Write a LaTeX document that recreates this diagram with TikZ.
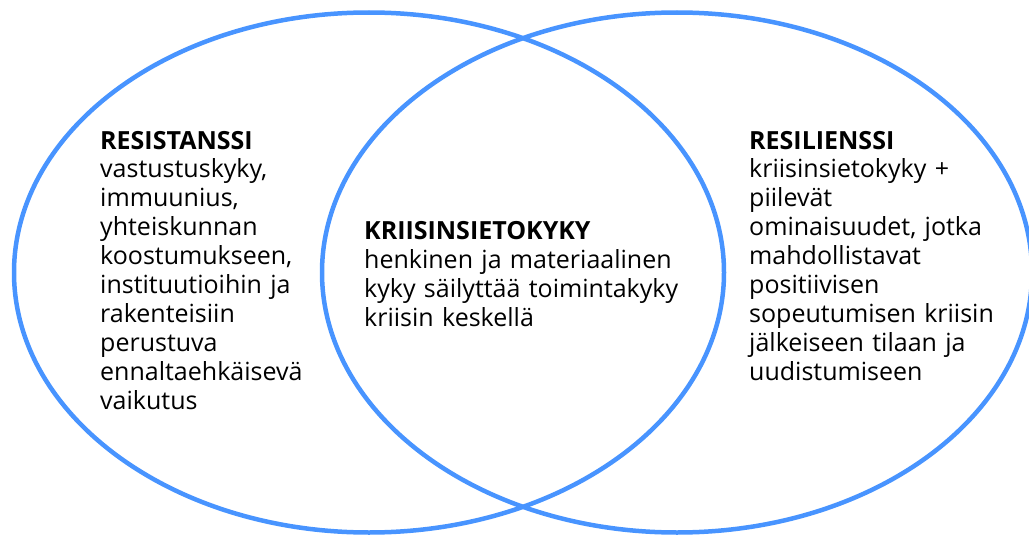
\documentclass[tikz,border=0pt]{standalone}
\usepackage{fontspec}
\setmainfont{Open Sans}
\definecolor{vennblue}{RGB}{72,148,255}
\begin{document}
\begin{tikzpicture}[x=1pt,y=-1pt,
  ring/.style={draw=vennblue,line width=4.5pt},
  txt/.style={anchor=base west,inner sep=0pt,align=left,text width=#1,
    font={\fontsize{25}{28.9}\selectfont},text=black}]
\useasboundingbox (0,0) rectangle (1029,535);
\draw[ring] (369,272.5) ellipse [x radius=355,y radius=260];
\draw[ring] (677,272.5) ellipse [x radius=355,y radius=260];
\node[txt=250pt] (left) at (100,149) {\textbf{RESISTANSSI}\\vastustuskyky,\\immuunius,\\yhteiskunnan\\koostumukseen,\\instituutioihin ja\\rakenteisiin\\perustuva\\ennaltaehkäisevä\\vaikutus};
\node[txt=340pt] (mid) at (364,239.3) {\textbf{KRIISINSIETOKYKY}\\henkinen ja materiaalinen\\kyky säilyttää toimintakyky\\kriisin keskellä};
\node[txt=275pt] (right) at (749,149) {\textbf{RESILIENSSI}\\kriisinsietokyky +\\piilevät\\ominaisuudet, jotka\\mahdollistavat\\positiivisen\\sopeutumisen kriisin\\jälkeiseen tilaan ja\\uudistumiseen};
\end{tikzpicture}
\end{document}
